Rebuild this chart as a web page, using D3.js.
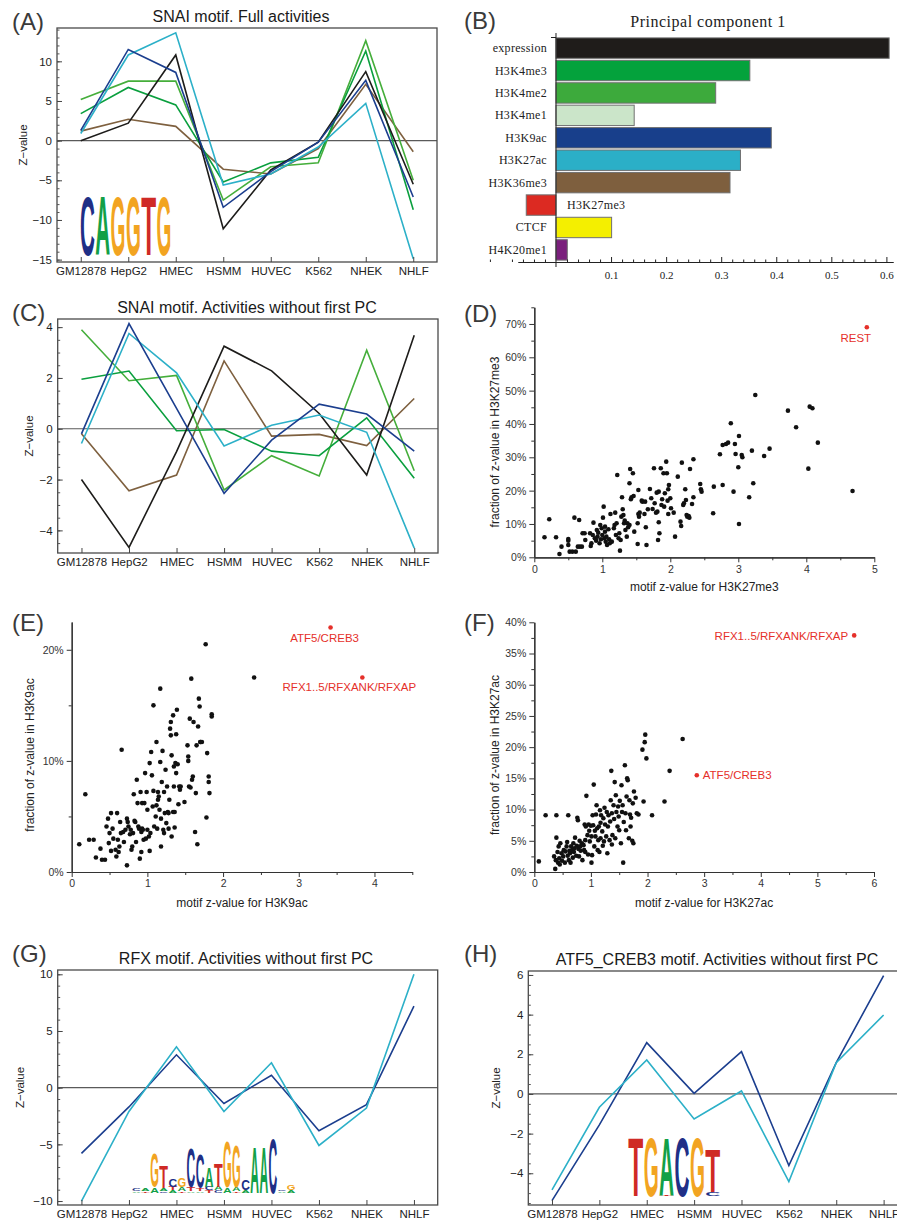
<!DOCTYPE html>
<html>
<head>
<meta charset="utf-8">
<script src="https://d3js.org/d3.v7.min.js"></script>
<style>
  body { margin: 0; background: #fff; }
  text { font-family: "Liberation Sans", Arial, sans-serif; }
</style>
</head>
<body>
<script>

// ---------- data ----------
const cells = ["GM12878", "HepG2", "HMEC", "HSMM", "HUVEC", "K562", "NHEK", "NHLF"];

// (A) SNAI full activities
const fullExpression = [0, 2.2, 10.8, -11.1, -3.7, -0.2, 8.7, -5.5];
const fullH3K4me3 = [3.4, 6.7, 4.5, -5.2, -2.8, -2.1, 11.3, -8.7];
const fullH3K4me2 = [5.2, 7.5, 7.5, -7.5, -3.3, -2.8, 12.6, -5.0];
const fullH3K9ac = [1.3, 11.5, 8.6, -8.4, -3.9, -0.2, 7.6, -7.1];
const fullH3K27ac = [0.9, 10.8, 13.6, -5.6, -4.2, -0.8, 4.7, -14.9];
const fullH3K36me3 = [1.2, 2.7, 1.8, -3.6, -4.2, -1.0, 7.1, -1.4];

// (C) SNAI without first PC
const resExpression = [-2.0, -4.67, -0.9, 3.25, 2.28, 0.6, -1.82, 3.68];
const resH3K4me3 = [1.95, 2.27, -0.08, -0.03, -0.88, -1.06, 0.43, -1.95];
const resH3K4me2 = [3.9, 1.89, 2.1, -2.41, -1.06, -1.86, 3.09, -1.65];
const resH3K9ac = [-0.2, 4.14, 0.8, -2.54, -0.45, 0.97, 0.58, -0.88];
const resH3K27ac = [-0.58, 3.75, 2.2, -0.68, 0.14, 0.54, -0.14, -4.7];
const resH3K36me3 = [-0.2, -2.44, -1.82, 2.67, -0.29, -0.22, -0.66, 1.19];

// (B) principal component 1
const pcMarks = ["expression", "H3K4me3", "H3K4me2", "H3K4me1", "H3K9ac", "H3K27ac", "H3K36me3", "H3K27me3", "CTCF", "H4K20me1"];
const pcLoadings = [0.605, 0.352, 0.29, 0.142, 0.391, 0.335, 0.316, -0.054, 0.101, 0.0205];
const pcColors = ["#1f1c1a", "#04a23c", "#3daa3c", "#cbe5c9", "#183f8b", "#2bafc7", "#7e5f3e", "#dc2a22", "#f4ef00", "#7a1f7c"];
const pcTicks = [0.1, 0.2, 0.3, 0.4, 0.5, 0.6];

// (G) RFX and (H) ATF5_CREB3 without first PC
const rfxH3K9ac = [-5.8, -1.7, 2.9, -1.4, 1.1, -3.8, -1.5, 7.2];
const rfxH3K27ac = [-10.0, -2.1, 3.6, -2.1, 2.2, -5.1, -1.8, 10.0];
const atfH3K9ac = [-5.38, -1.56, 2.59, 0.03, 2.13, -3.61, 1.58, 5.97];
const atfH3K27ac = [-4.84, -0.67, 1.71, -1.26, 0.15, -4.42, 1.58, 3.98];

// tick values
const ticksA = [-15, -10, -5, 0, 5, 10];
const ticksC = [-4, -2, 0, 2, 4];
const ticksG = [-10, -5, 0, 5, 10];
const ticksH = [-4, -2, 0, 2, 4, 6];

// sequence logos, each column listed bottom to top: [letter, relative height]
const snaiLogo = [[["C", 1]], [["A", 1]], [["G", 1]], [["G", 1]], [["T", 1]], [["G", 1]]];
const atfLogo = [[["T", 1]], [["G", 1]], [["T", 0.02], ["A", 0.98]], [["C", 1]], [["G", 1]], [["C", 0.07], ["T", 0.73]]];
const rfxLogo = [
  [["A", 0.03], ["C", 0.04]],
  [["T", 0.02], ["A", 0.05]],
  [["A", 0.09], ["G", 0.6]],
  [["C", 0.03], ["A", 0.05], ["T", 0.4]],
  [["A", 0.04], ["T", 0.06], ["C", 0.13]],
  [["T", 0.03], ["A", 0.07], ["G", 0.17]],
  [["A", 0.03], ["T", 0.07], ["C", 0.69]],
  [["A", 0.03], ["T", 0.05], ["C", 0.6]],
  [["T", 0.04], ["C", 0.06], ["A", 0.35]],
  [["C", 0.04], ["A", 0.06], ["T", 0.43]],
  [["A", 0.1], ["G", 0.83]],
  [["T", 0.03], ["A", 0.06], ["G", 0.75]],
  [["A", 0.05], ["C", 0.19]],
  [["A", 0.82]],
  [["A", 0.82]],
  [["C", 0.99]],
  [["A", 0.03], ["C", 0.03]],
  [["A", 0.05], ["G", 0.09]]
];

// (D) motif z-value vs fraction in H3K27me3 (%)
const h3k27me3Points = [
  [0.15,6.0],[0.22,11.4],[0.32,6.0],[0.40,3.2],[0.37,1.0],[0.50,5.5],[0.50,5.0],[0.50,3.7],[0.52,1.7],[0.56,1.7],
  [0.59,11.9],[0.61,1.7],[0.64,3.2],[0.66,11.2],[0.67,3.2],[0.70,3.2],[0.71,7.2],[0.74,7.2],[0.75,5.2],[0.82,7.2],
  [0.83,3.4],[0.84,4.2],[0.86,6.7],[0.87,10.4],[0.89,5.7],[0.91,5.0],[0.92,8.2],[0.93,6.2],[0.94,7.4],[0.96,4.2],
  [0.97,9.7],[0.98,5.4],[0.99,8.7],[1.00,6.7],[1.01,11.9],[1.02,15.2],[1.03,5.7],[1.04,9.2],[1.04,7.7],[1.05,4.7],
  [1.06,6.2],[1.07,3.7],[1.09,8.4],[1.10,5.4],[1.11,4.2],[1.12,13.0],[1.14,4.7],[1.17,8.7],[1.18,9.7],[1.19,13.4],
  [1.20,6.7],[1.21,10.2],[1.22,24.7],[1.24,5.7],[1.25,7.2],[1.26,2.0],[1.27,5.2],[1.28,12.2],[1.29,18.0],[1.30,14.4],
  [1.31,12.7],[1.32,10.2],[1.33,11.0],[1.34,8.2],[1.36,6.2],[1.37,10.2],[1.38,9.0],[1.40,9.7],[1.40,22.2],[1.41,26.5],
  [1.42,17.4],[1.43,18.0],[1.45,25.2],[1.46,18.4],[1.47,7.7],[1.52,4.0],[1.52,10.2],[1.53,20.2],[1.53,13.0],[1.54,12.2],
  [1.55,13.4],[1.58,17.0],[1.59,16.7],[1.62,13.0],[1.63,16.7],[1.64,9.0],[1.65,3.7],[1.67,14.4],[1.70,20.5],[1.72,17.7],
  [1.74,14.5],[1.76,26.7],[1.77,16.2],[1.79,13.4],[1.80,19.4],[1.81,13.7],[1.82,5.2],[1.83,19.7],[1.83,10.5],[1.84,7.2],
  [1.86,26.7],[1.87,15.7],[1.88,17.4],[1.90,25.2],[1.91,15.2],[1.92,19.2],[1.94,28.7],[1.95,25.2],[1.96,17.0],[1.97,20.4],
  [1.97,13.0],[1.98,21.7],[2.00,17.7],[2.01,14.7],[2.05,13.4],[2.07,6.2],[2.11,24.2],[2.15,10.7],[2.16,9.4],[2.17,28.4],
  [2.19,15.7],[2.20,16.2],[2.22,20.4],[2.23,17.2],[2.24,12.7],[2.25,12.2],[2.27,12.4],[2.28,11.9],[2.29,26.5],[2.32,16.0],
  [2.34,18.0],[2.34,29.4],[2.44,22.0],[2.45,20.4],[2.46,19.7],[2.63,13.2],[2.64,21.2],[2.73,30.9],[2.77,33.7],[2.77,21.7],
  [2.82,34.0],[2.85,34.4],[2.89,40.2],[2.93,19.7],[2.95,34.0],[2.96,31.0],[3.00,27.0],[3.01,10.0],[3.01,36.4],[3.05,30.7],
  [3.06,30.0],[3.16,18.0],[3.20,32.0],[3.22,22.2],[3.25,48.7],[3.38,30.4],[3.46,32.6],[3.73,44.0],[3.85,39.0],[4.03,26.6],
  [4.05,45.2],[4.09,44.7],[4.17,34.4],[4.68,19.9]
];
const h3k27me3Outliers = [["REST", 4.89, 69.0]];

// (E) motif z-value vs fraction in H3K9ac (%)
const h3k9acPoints = [
  [0.10,2.5],[0.18,7.0],[0.23,2.9],[0.29,2.9],[0.32,1.3],[0.38,2.1],[0.40,1.1],[0.44,1.1],[0.46,4.1],[0.48,4.8],
  [0.49,2.6],[0.50,3.5],[0.52,5.3],[0.52,1.9],[0.54,3.9],[0.55,3.0],[0.58,2.0],[0.59,1.4],[0.60,5.3],[0.61,2.9],
  [0.62,1.8],[0.63,2.3],[0.64,4.5],[0.65,3.5],[0.66,11.0],[0.68,3.6],[0.69,2.7],[0.71,3.8],[0.73,4.8],[0.73,0.6],
  [0.74,4.5],[0.75,4.1],[0.77,3.4],[0.78,3.8],[0.79,2.0],[0.80,2.3],[0.81,3.5],[0.82,7.0],[0.83,4.6],[0.84,4.5],
  [0.85,2.7],[0.86,8.3],[0.87,6.2],[0.88,4.1],[0.89,3.9],[0.90,1.2],[0.91,7.2],[0.92,3.6],[0.92,1.8],[0.93,6.2],
  [0.93,3.9],[0.94,3.8],[0.95,2.9],[0.96,6.2],[0.97,8.9],[0.98,3.0],[0.99,7.2],[1.00,5.6],[1.00,3.8],[1.02,3.2],
  [1.03,1.9],[1.03,9.8],[1.04,3.5],[1.05,10.8],[1.06,8.7],[1.07,5.9],[1.08,7.3],[1.08,15.0],[1.09,4.1],[1.11,5.0],
  [1.12,11.7],[1.12,6.0],[1.13,3.9],[1.14,7.2],[1.14,6.5],[1.15,6.8],[1.16,5.6],[1.17,16.5],[1.17,9.9],[1.18,4.8],
  [1.18,2.3],[1.19,8.1],[1.20,10.9],[1.21,3.8],[1.22,7.2],[1.22,3.5],[1.23,5.3],[1.24,9.2],[1.25,4.4],[1.26,7.7],
  [1.27,5.4],[1.28,3.9],[1.28,5.3],[1.29,6.5],[1.30,12.9],[1.31,13.5],[1.31,12.3],[1.32,3.2],[1.32,10.5],[1.34,5.4],
  [1.34,14.1],[1.35,9.5],[1.35,7.7],[1.36,4.0],[1.36,5.4],[1.37,9.8],[1.38,12.4],[1.38,8.9],[1.39,14.6],[1.40,9.7],
  [1.41,6.1],[1.42,7.7],[1.43,7.4],[1.44,7.7],[1.49,6.3],[1.53,11.4],[1.54,10.0],[1.54,10.4],[1.55,7.7],[1.56,13.8],
  [1.57,7.6],[1.58,17.4],[1.59,8.3],[1.60,8.6],[1.61,13.5],[1.63,3.6],[1.64,7.1],[1.65,11.4],[1.66,2.5],[1.67,13.1],
  [1.68,15.6],[1.69,14.9],[1.70,11.7],[1.70,11.7],[1.72,11.7],[1.77,20.5],[1.78,4.9],[1.79,10.7],[1.81,8.6],[1.81,8.1],
  [1.82,7.1],[1.85,14.2],[1.85,14.0],[2.41,17.5]
];
const h3k9acOutliers = [["ATF5/CREB3", 3.42, 22.0], ["RFX1..5/RFXANK/RFXAP", 3.84, 17.5]];

// (F) motif z-value vs fraction in H3K27ac (%)
const h3k27acPoints = [
  [0.08,1.7],[0.20,9.1],[0.35,2.5],[0.37,0.5],[0.38,1.9],[0.39,9.1],[0.39,5.5],[0.41,3.2],[0.42,1.5],[0.43,4.1],
  [0.44,2.2],[0.45,1.2],[0.46,4.6],[0.48,3.0],[0.49,1.8],[0.51,2.5],[0.52,3.5],[0.54,1.5],[0.55,3.3],[0.57,4.1],
  [0.58,4.8],[0.59,2.6],[0.60,9.1],[0.61,1.9],[0.62,3.4],[0.63,3.0],[0.64,1.5],[0.65,4.1],[0.67,3.5],[0.68,2.3],
  [0.69,4.6],[0.70,3.2],[0.71,3.8],[0.72,5.5],[0.74,2.6],[0.75,4.2],[0.76,8.7],[0.77,8.3],[0.78,3.7],[0.79,2.5],
  [0.80,5.0],[0.81,4.1],[0.82,3.4],[0.84,4.6],[0.85,1.9],[0.87,4.3],[0.88,3.5],[0.89,7.6],[0.90,5.1],[0.90,3.2],
  [0.91,7.3],[0.92,12.2],[0.94,5.9],[0.95,2.8],[0.96,7.6],[0.97,6.6],[0.98,4.9],[1.00,7.4],[1.01,5.7],[1.01,1.5],
  [1.02,2.7],[1.03,9.1],[1.04,7.5],[1.05,14.0],[1.06,4.1],[1.07,6.6],[1.08,5.7],[1.09,9.2],[1.10,10.7],[1.11,7.0],
  [1.12,3.5],[1.13,5.1],[1.14,7.3],[1.15,3.2],[1.16,9.9],[1.17,5.4],[1.17,7.9],[1.18,9.1],[1.20,6.5],[1.21,4.2],
  [1.22,8.6],[1.23,4.9],[1.24,10.3],[1.25,7.6],[1.27,5.7],[1.28,9.6],[1.29,3.0],[1.30,7.3],[1.31,9.1],[1.33,5.1],
  [1.34,8.1],[1.35,11.5],[1.36,16.2],[1.37,4.4],[1.37,9.4],[1.38,5.9],[1.40,10.7],[1.41,8.5],[1.42,14.4],[1.43,5.4],
  [1.44,12.3],[1.45,9.6],[1.47,7.3],[1.48,10.5],[1.49,8.9],[1.50,6.7],[1.51,11.4],[1.53,4.6],[1.54,13.9],[1.55,9.6],
  [1.56,10.7],[1.57,1.5],[1.58,8.0],[1.60,17.1],[1.61,9.4],[1.62,6.7],[1.63,12.1],[1.64,15.0],[1.65,14.7],[1.67,5.4],
  [1.68,11.5],[1.69,9.2],[1.70,7.3],[1.71,8.7],[1.73,5.0],[1.74,11.0],[1.75,4.6],[1.76,12.9],[1.79,11.9],[1.81,9.4],
  [1.84,9.2],[1.91,19.6],[1.93,11.3],[1.95,20.8],[1.96,22.0],[1.98,18.2],[2.08,9.1],[2.30,11.3],[2.39,16.2],[2.62,21.3]
];
const h3k27acOutliers = [["RFX1..5/RFXANK/RFXAP", 5.65, 37.9], ["ATF5/CREB3", 2.87, 15.5]];

// ---------- drawing ----------
const cExpr = "#1d1c1a", cK4me3 = "#0a9f3e", cK4me2 = "#45ae3b", cK9 = "#1b3e8e", cK27 = "#2cb0c8", cK36 = "#7e603f";
const logoColors = { A: "#12a047", C: "#202f86", G: "#f2a421", T: "#cf2a25" };
const red = "#e5302a";
const sans = "Liberation Sans, Arial, sans-serif";
const serif = "Liberation Serif, Times New Roman, serif";

const svg = d3.select("body").append("svg")
  .attr("width", 897)
  .attr("height", 1223);

const minus = v => (v < 0 ? "\u2212" + Math.abs(v) : String(v));

function panelLetter(txt, x, y) {
  svg.append("text").attr("x", x).attr("y", y).text(txt)
    .attr("font-size", 24).attr("fill", "#3a3a3a");
}

// one stretched letter filling a box (baseline at y + h)
function logoLetter(g, ch, x, y, w, h) {
  const t = g.append("text").text(ch)
    .attr("font-size", 100)
    .attr("font-weight", "bold")
    .attr("fill", logoColors[ch]);
  const adv = t.node().getComputedTextLength();
  t.attr("transform", `translate(${x},${y + h}) scale(${w / adv},${h / 72})`);
}

function drawLogo(g, left, baseline, colW, unitH, columns) {
  columns.forEach((stack, i) => {
    let yCur = baseline;
    stack.forEach(([ch, hgt]) => {
      const hp = hgt * unitH;
      yCur -= hp;
      logoLetter(g, ch, left + i * colW, yCur, colW - 0.4, hp);
    });
  });
}

function linePanel(p) {
  const g = svg.append("g");
  const x = d3.scalePoint().domain(cells).range([p.x0, p.x1]).padding(0.5);
  const y = d3.scaleLinear().domain(p.domain).range([p.y1, p.y0]);

  if (p.logo) drawLogo(g, p.logo.left, p.logo.baseline, p.logo.colW, p.logo.unitH, p.logo.columns);

  g.append("line")
    .attr("x1", p.x0).attr("x2", p.x1)
    .attr("y1", y(0)).attr("y2", y(0))
    .attr("stroke", "#5a5a5a").attr("stroke-width", 1.2);

  const line = d3.line().x((d, i) => x(cells[i])).y(d => y(d));
  p.series.forEach(s => {
    g.append("path").datum(s.values)
      .attr("d", line)
      .attr("fill", "none")
      .attr("stroke", s.color)
      .attr("stroke-width", 1.6);
  });

  g.append("rect")
    .attr("x", p.x0).attr("y", p.y0)
    .attr("width", p.x1 - p.x0).attr("height", p.y1 - p.y0)
    .attr("fill", "none").attr("stroke", "#4a4a4a").attr("stroke-width", 1.3);

  const minor = d3.range(p.domain[0], p.domain[1], p.minorStep)
    .map(v => Math.ceil(v / p.minorStep) * p.minorStep)
    .filter(v => v >= p.domain[0] && v <= p.domain[1]);

  g.append("g").attr("transform", `translate(${p.x0},0)`)
    .call(d3.axisLeft(y).tickValues(minor).tickSize(-2.5).tickFormat(""))
    .call(a => a.select(".domain").remove())
    .call(a => a.selectAll("line").attr("stroke", "#555"));

  g.append("g").attr("transform", `translate(${p.x0},0)`)
    .call(d3.axisLeft(y).tickValues(p.ticks).tickSize(-5).tickPadding(5).tickFormat(minus))
    .call(a => a.select(".domain").remove())
    .call(a => a.selectAll("line").attr("stroke", "#444"))
    .call(a => a.selectAll("text").attr("font-size", 11.5).attr("fill", "#222"));

  g.append("g").attr("transform", `translate(0,${p.y1})`)
    .call(d3.axisBottom(x).tickSize(-5).tickPadding(5))
    .call(a => a.select(".domain").remove())
    .call(a => a.selectAll("line").attr("stroke", "#444"))
    .call(a => a.selectAll("text").attr("font-size", 11.5).attr("fill", "#222"));

  g.append("text")
    .attr("x", p.titleX).attr("y", p.y0 - 6.5)
    .attr("text-anchor", "middle")
    .attr("font-size", 16).attr("fill", "#1a1a1a")
    .text(p.title);

  g.append("text")
    .attr("transform", `translate(${p.labelX},${(p.y0 + p.y1) / 2}) rotate(-90)`)
    .attr("text-anchor", "middle")
    .attr("font-size", 11.5).attr("fill", "#222")
    .text("Z\u2212value");
}

function scatterPanel(p) {
  const g = svg.append("g");
  const x = d3.scaleLinear().domain(p.xDomain).range([p.x0, p.x1]);
  const y = d3.scaleLinear().domain(p.yDomain).range([p.y1, p.y0]);
  const style = a => {
    a.selectAll("line").attr("stroke", "#333");
    a.select(".domain").attr("stroke", "#333").attr("stroke-width", 1.2);
    a.selectAll("text").attr("font-size", 10.5).attr("fill", "#333");
  };

  g.append("g").attr("transform", `translate(0,${p.y1})`)
    .call(d3.axisBottom(x).tickValues(p.xMinor).tickSize(3).tickSizeOuter(0).tickFormat(""))
    .call(style);
  g.append("g").attr("transform", `translate(0,${p.y1})`)
    .call(d3.axisBottom(x).tickValues(p.xTicks).tickSize(5).tickSizeOuter(0).tickPadding(3).tickFormat(d3.format("d")))
    .call(style);
  g.append("g").attr("transform", `translate(${p.x0},0)`)
    .call(d3.axisLeft(y).tickValues(p.yMinor).tickSize(3).tickSizeOuter(0).tickFormat(""))
    .call(style);
  g.append("g").attr("transform", `translate(${p.x0},0)`)
    .call(d3.axisLeft(y).tickValues(p.yTicks).tickSize(5).tickSizeOuter(0).tickPadding(3).tickFormat(d => d + "%"))
    .call(style);

  g.append("g").selectAll("circle").data(p.points).join("circle")
    .attr("cx", d => x(d[0])).attr("cy", d => y(d[1]))
    .attr("r", 2.3).attr("fill", "#111");

  p.outliers.forEach((o, i) => {
    const lb = p.outlierLabels[i];
    g.append("circle").attr("cx", x(o[1])).attr("cy", y(o[2])).attr("r", 2.3).attr("fill", red);
    g.append("text")
      .attr("x", x(o[1]) + lb.dx).attr("y", y(o[2]) + lb.dy)
      .attr("text-anchor", lb.anchor)
      .attr("font-size", 11.5).attr("fill", red)
      .text(o[0]);
  });

  g.append("text")
    .attr("x", (p.x0 + p.x1) / 2).attr("y", p.xLabelY)
    .attr("text-anchor", "middle").attr("font-size", 12).attr("fill", "#222")
    .text(p.xLabel);
  g.append("text")
    .attr("transform", `translate(${p.yLabelX},${p.yLabelY}) rotate(-90)`)
    .attr("text-anchor", "middle").attr("font-size", 12).attr("fill", "#222")
    .text(p.yLabel);
}

function barPanel() {
  const g = svg.append("g");
  const xb = d3.scaleLinear().domain([-0.069, 0.612]).range([518, 893]);
  const yb = d3.scaleBand().domain(pcMarks).range([37, 261]).paddingInner(0.09).paddingOuter(0.04);

  g.selectAll("rect").data(pcLoadings).join("rect")
    .attr("x", d => xb(Math.min(0, d)))
    .attr("width", d => Math.abs(xb(d) - xb(0)))
    .attr("y", (d, i) => yb(pcMarks[i]))
    .attr("height", yb.bandwidth())
    .attr("fill", (d, i) => pcColors[i])
    .attr("stroke", "#707070").attr("stroke-width", 1);

  g.selectAll(".lab").data(pcLoadings).join("text")
    .attr("x", d => (d < 0 ? xb(0) + 11 : xb(0) - 9))
    .attr("y", (d, i) => yb(pcMarks[i]) + yb.bandwidth() / 2 + 4)
    .attr("text-anchor", d => (d < 0 ? "start" : "end"))
    .style("font-family", serif).attr("font-size", 12).attr("fill", "#222")
    .attr("letter-spacing", 0.3)
    .text((d, i) => pcMarks[i]);

  // vertical zero axis
  g.append("line").attr("x1", xb(0)).attr("x2", xb(0)).attr("y1", 33).attr("y2", 267)
    .attr("stroke", "#222").attr("stroke-width", 1);
  g.append("line").attr("x1", xb(0) - 5).attr("x2", xb(0)).attr("y1", 37.5).attr("y2", 37.5)
    .attr("stroke", "#222");

  const minor = d3.range(-6, 31).map(k => k * 0.02).filter(v => Math.abs(v * 10 - Math.round(v * 10)) > 1e-6);
  g.append("g").attr("transform", "translate(0,262)")
    .call(d3.axisBottom(xb).tickValues(minor).tickSize(-2.5).tickSizeOuter(0).tickFormat(""))
    .call(a => a.selectAll("line").attr("stroke", "#222"))
    .call(a => a.select(".domain").attr("stroke", "#222"));
  g.append("g").attr("transform", "translate(0,262)")
    .call(d3.axisBottom(xb).tickValues(pcTicks).tickSize(-5).tickSizeOuter(0).tickPadding(9).tickFormat(d3.format(".1f")))
    .call(a => a.selectAll("line").attr("stroke", "#222"))
    .call(a => a.select(".domain").attr("stroke", "#222"))
    .call(a => a.selectAll("text").style("font-family", serif).attr("font-size", 11).attr("fill", "#222"));

  g.append("text").attr("x", 708).attr("y", 27)
    .attr("text-anchor", "middle")
    .style("font-family", serif).attr("font-size", 16).attr("letter-spacing", 0.5).attr("fill", "#222")
    .text("Principal component 1");
}

// (A)
linePanel({
  x0: 57, x1: 437, y0: 28, y1: 262, domain: [-15.3, 14.2],
  ticks: ticksA, minorStep: 1, title: "SNAI motif. Full activities", titleX: 241, labelX: 27,
  series: [
    { values: fullH3K36me3, color: cK36 },
    { values: fullH3K4me2, color: cK4me2 },
    { values: fullH3K4me3, color: cK4me3 },
    { values: fullExpression, color: cExpr },
    { values: fullH3K27ac, color: cK27 },
    { values: fullH3K9ac, color: cK9 }
  ],
  logo: { left: 80, baseline: 255, colW: 15.3, unitH: 60, columns: snaiLogo }
});

// (C)
linePanel({
  x0: 57.7, x1: 438, y0: 319, y1: 553, domain: [-4.89, 4.32],
  ticks: ticksC, minorStep: 0.5, title: "SNAI motif. Activities without first PC", titleX: 247, labelX: 33,
  series: [
    { values: resH3K36me3, color: cK36 },
    { values: resH3K4me2, color: cK4me2 },
    { values: resH3K4me3, color: cK4me3 },
    { values: resExpression, color: cExpr },
    { values: resH3K27ac, color: cK27 },
    { values: resH3K9ac, color: cK9 }
  ]
});

// (G)
linePanel({
  x0: 57.7, x1: 437.7, y0: 970, y1: 1205, domain: [-10.35, 10.38],
  ticks: ticksG, minorStep: 1, title: "RFX motif. Activities without first PC", titleX: 246, labelX: 24,
  series: [
    { values: rfxH3K9ac, color: cK9 },
    { values: rfxH3K27ac, color: cK27 }
  ],
  logo: { left: 132, baseline: 1192.5, colW: 9.1, unitH: 57, columns: rfxLogo }
});

// (H)
linePanel({
  x0: 528.3, x1: 907.3, y0: 971, y1: 1205, domain: [-5.6, 6.2],
  ticks: ticksH, minorStep: 0.5, title: "ATF5_CREB3 motif. Activities without first PC", titleX: 717, labelX: 500,
  series: [
    { values: atfH3K9ac, color: cK9 },
    { values: atfH3K27ac, color: cK27 }
  ],
  logo: { left: 628.3, baseline: 1196, colW: 15.4, unitH: 60, columns: atfLogo }
});

barPanel();

// (D)
scatterPanel({
  x0: 534.3, x1: 874.3, y0: 307.3, y1: 557.3, xDomain: [0, 5], yDomain: [0, 75],
  xTicks: [0, 1, 2, 3, 4, 5], xMinor: [0.5, 1.5, 2.5, 3.5, 4.5],
  yTicks: [0, 10, 20, 30, 40, 50, 60, 70], yMinor: [5, 15, 25, 35, 45, 55, 65, 75],
  points: h3k27me3Points, outliers: h3k27me3Outliers,
  outlierLabels: [{ dx: -11, dy: 15, anchor: "middle" }],
  xLabel: "motif z-value for H3K27me3", xLabelY: 591,
  yLabel: "fraction of z-value in H3K27me3", yLabelX: 499, yLabelY: 442
});

// (E)
scatterPanel({
  x0: 71.7, x1: 412.3, y0: 622, y1: 872, xDomain: [0, 4.5], yDomain: [0, 22.5],
  xTicks: [0, 1, 2, 3, 4], xMinor: [0.5, 1.5, 2.5, 3.5, 4.5],
  yTicks: [0, 10, 20], yMinor: [5, 15],
  points: h3k9acPoints, outliers: h3k9acOutliers,
  outlierLabels: [{ dx: -6, dy: 14, anchor: "middle" }, { dx: -13, dy: 13.5, anchor: "middle" }],
  xLabel: "motif z-value for H3K9ac", xLabelY: 907,
  yLabel: "fraction of z-value in H3K9ac", yLabelX: 34, yLabelY: 755
});

// (F)
scatterPanel({
  x0: 534.3, x1: 874, y0: 622.3, y1: 872, xDomain: [0, 6], yDomain: [0, 40],
  xTicks: [0, 1, 2, 3, 4, 5, 6], xMinor: [0.5, 1.5, 2.5, 3.5, 4.5, 5.5],
  yTicks: [0, 5, 10, 15, 20, 25, 30, 35, 40], yMinor: [2.5, 7.5, 12.5, 17.5, 22.5, 27.5, 32.5, 37.5],
  points: h3k27acPoints, outliers: h3k27acOutliers,
  outlierLabels: [{ dx: -6, dy: 4.5, anchor: "end" }, { dx: 6, dy: 4, anchor: "start" }],
  xLabel: "motif z-value for H3K27ac", xLabelY: 907,
  yLabel: "fraction of z-value in H3K27ac", yLabelX: 499, yLabelY: 755
});

panelLetter("(A)", 12, 30);
panelLetter("(B)", 464, 29);
panelLetter("(C)", 12, 321);
panelLetter("(D)", 464, 322);
panelLetter("(E)", 12, 631);
panelLetter("(F)", 464, 631);
panelLetter("(G)", 12, 962);
panelLetter("(H)", 464, 962);

</script>
</body>
</html>
